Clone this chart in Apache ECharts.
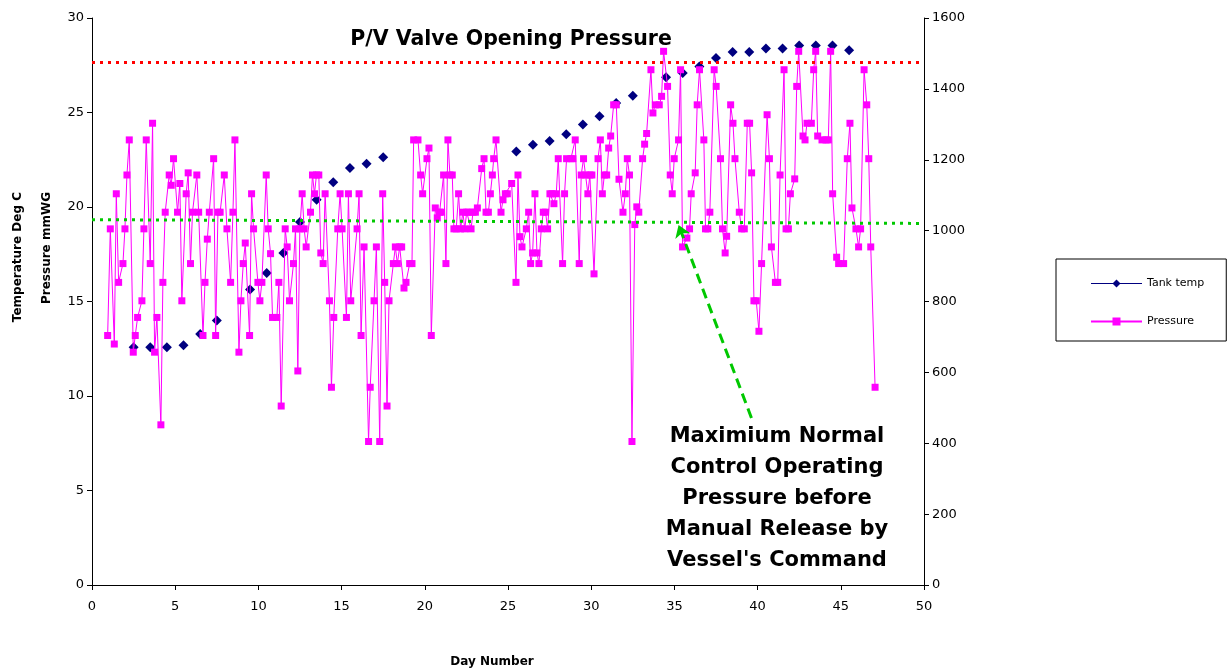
<!DOCTYPE html>
<html>
<head>
<meta charset="utf-8">
<script src="https://cdn.jsdelivr.net/npm/echarts@6/dist/echarts.min.js"></script>
<style>
html,body{margin:0;padding:0;background:#fff;}
#chart{width:1229px;height:671px;}
</style>
</head>
<body>
<div id="chart"></div>
<script>
// ---- Data ----
const tempDays = [2.5,3.5,4.5,5.5,6.5,7.5,9.5,10.5,11.5,12.5,13.5,14.5,15.5,16.5,17.5,
  25.5,26.5,27.5,28.5,29.5,30.5,31.5,32.5,34.5,35.5,36.5,37.5,38.5,39.5,40.5,41.5,42.5,43.5,44.5,45.5];
const tempValues = [12.58,12.58,12.58,12.68,13.28,13.99,15.63,16.51,17.57,19.21,20.39,21.31,22.06,22.29,22.63,
  22.93,23.30,23.49,23.85,24.36,24.80,25.50,25.89,26.86,27.09,27.44,27.88,28.20,28.20,28.38,28.38,28.55,28.55,28.55,28.29];

const pressureDays = [
  0.94,1.10,1.34,1.46,1.60,1.86,1.98,2.10,2.24,2.48,2.60,2.74,3.00,3.12,3.26,3.50,3.64,3.76,3.90,4.14,
  4.26,4.40,4.64,4.76,4.90,5.14,5.28,5.40,5.66,5.78,5.92,6.04,6.30,6.41,6.67,6.79,6.93,7.05,7.31,7.43,
  7.57,7.70,7.95,8.11,8.33,8.47,8.59,8.83,8.95,9.09,9.21,9.47,9.59,9.71,9.97,10.09,10.21,10.47,10.59,10.73,
  10.85,11.11,11.23,11.37,11.61,11.73,11.87,12.11,12.23,12.37,12.49,12.63,12.75,12.87,13.13,13.25,13.37,13.49,13.63,13.75,
  13.89,14.01,14.27,14.39,14.53,14.77,14.91,15.03,15.29,15.41,15.55,15.93,16.05,16.17,16.35,16.62,16.72,16.95,17.09,17.29,
  17.47,17.59,17.73,17.85,18.11,18.23,18.35,18.49,18.61,18.75,18.87,19.09,19.23,19.33,19.59,19.75,19.87,20.13,20.25,20.39,
  20.63,20.75,20.89,21.01,21.13,21.27,21.39,21.51,21.65,21.75,21.89,22.03,22.15,22.29,22.40,22.52,22.64,22.78,22.90,23.04,
  23.16,23.42,23.56,23.68,23.82,23.94,24.06,24.14,24.28,24.58,24.70,24.84,24.96,25.22,25.48,25.60,25.72,25.84,26.10,26.24,
  26.36,26.48,26.62,26.74,26.86,27.00,27.12,27.26,27.38,27.52,27.64,27.76,27.90,28.02,28.28,28.40,28.52,28.78,28.90,29.04,
  29.28,29.40,29.54,29.66,29.80,29.92,30.04,30.17,30.41,30.55,30.67,30.79,30.93,31.05,31.17,31.35,31.51,31.67,31.91,32.05,
  32.17,32.30,32.45,32.62,32.74,32.86,33.09,33.21,33.33,33.59,33.71,33.85,34.09,34.23,34.35,34.59,34.75,34.87,34.99,35.25,
  35.37,35.49,35.75,35.91,36.01,36.25,36.37,36.51,36.77,36.87,37.01,37.13,37.39,37.51,37.77,37.89,38.05,38.14,38.38,38.52,
  38.64,38.90,39.04,39.20,39.38,39.52,39.64,39.78,39.92,40.08,40.24,40.57,40.71,40.83,41.07,41.21,41.35,41.59,41.71,41.85,
  41.97,42.23,42.35,42.47,42.73,42.85,42.97,43.23,43.37,43.49,43.61,43.87,44.11,44.25,44.39,44.51,44.75,44.87,45.17,45.39,
  45.55,45.67,45.91,46.07,46.19,46.40,46.56,46.68,46.80,47.06];
const pressureValues = [
  704,1005,680,1104,854,907,1005,1157,1256,657,704,755,802,1005,1256,907,1303,657,755,452,
  854,1052,1157,1128,1203,1052,1133,802,1104,1163,907,1052,1157,1052,704,854,976,1052,1203,704,
  1052,1052,1157,1005,854,1052,1256,657,802,907,965,704,1104,1005,854,802,854,1157,1005,935,
  755,755,854,505,1005,954,802,907,1005,604,1005,1104,1005,954,1052,1157,1104,1157,1157,937,
  907,1104,802,558,755,1005,1104,1005,755,1104,802,1005,1104,704,954,405,558,802,954,405,
  1104,854,505,802,907,954,907,954,954,838,854,907,907,1256,1256,1157,1104,1203,1233,704,
  1064,1036,1052,1052,1157,907,1256,1157,1157,1005,1005,1104,1005,1052,1005,1052,1052,1005,1052,1052,
  1064,1175,1203,1052,1052,1104,1157,1203,1256,1052,1087,1104,1104,1133,854,1157,983,954,1005,1052,
  907,937,1104,937,907,1005,1052,1052,1005,1104,1104,1076,1104,1203,907,1104,1203,1203,1203,1256,
  907,1157,1203,1157,1104,1157,1157,878,1203,1256,1104,1157,1157,1233,1267,1355,1355,1145,1052,1104,
  1203,1157,405,1017,1067,1052,1203,1244,1274,1454,1332,1355,1355,1379,1506,1407,1157,1104,1203,1256,
  1454,954,979,1005,1104,1163,1355,1454,1256,1005,1005,1052,1454,1407,1203,1005,937,984,1355,1303,
  1203,1052,1005,1005,1303,1303,1163,802,802,716,907,1327,1203,954,854,854,1157,1454,1005,1005,
  1104,1146,1407,1506,1267,1256,1303,1303,1454,1506,1267,1256,1256,1256,1506,1104,925,907,907,1203,
  1303,1064,1005,954,1005,1454,1355,1203,954,558];

// reference levels (left axis, deg C scale)
const pvValveLevel = 27.67;
const normalMaxStart = 19.33;
const normalMaxEnd = 19.13;
const arrowFrom = [39.63, 8.84];
const arrowTo = [35.25, 19.05];

const xMin = 0, xMax = 50, xStep = 5;
const tMin = 0, tMax = 30, tStep = 5;
const pMin = 0, pMax = 1600, pStep = 200;

const FONT = 'DejaVu Sans';
const chart = echarts.init(document.getElementById('chart'), null, {renderer: 'canvas'});

const axisCommon = {
  axisLine: {show: true, lineStyle: {color: '#000', width: 1}},
  axisTick: {show: true, length: 5, lineStyle: {color: '#000'}},
  splitLine: {show: false},
  axisLabel: {color: '#000', fontSize: 13, fontFamily: FONT, formatter: v => String(v)}
};

const option = {
  animation: false,
  backgroundColor: '#fff',
  grid: {left: 92, right: 305, top: 18, bottom: 86, containLabel: false},
  xAxis: Object.assign({}, axisCommon, {
    type: 'value', min: xMin, max: xMax, interval: xStep,
    axisLabel: Object.assign({}, axisCommon.axisLabel, {margin: 15})
  }),
  yAxis: [
    Object.assign({}, axisCommon, {
      type: 'value', min: tMin, max: tMax, interval: tStep, position: 'left',
      axisLabel: Object.assign({}, axisCommon.axisLabel, {margin: 8})
    }),
    Object.assign({}, axisCommon, {
      type: 'value', min: pMin, max: pMax, interval: pStep, position: 'right',
      axisLabel: Object.assign({}, axisCommon.axisLabel, {margin: 8})
    })
  ],
  legend: {
    orient: 'vertical', left: 1056, top: 259,
    padding: [19, 22, 14, 34], itemGap: 27,
    itemWidth: 51, itemHeight: 10,
    borderColor: '#000', borderWidth: 1,
    textStyle: {color: '#000', fontSize: 11, fontFamily: FONT},
    data: [
      {name: 'Tank temp', lineStyle: {opacity: 1, width: 1, color: '#000080'}},
      {name: 'Pressure'}
    ]
  },
  series: [
    {
      name: 'Tank temp', type: 'line', yAxisIndex: 0, z: 2,
      data: tempDays.map((d, i) => [d, tempValues[i]]),
      symbol: 'diamond', symbolSize: 10,
      itemStyle: {color: '#000080'},
      lineStyle: {color: '#000080', width: 1, opacity: 0},
      markLine: {
        silent: true, animation: false, symbol: 'none',
        label: {show: false},
        data: [
          [{coord: [xMin, pvValveLevel], lineStyle: {color: '#ff0000', width: 3, type: [3, 5]}}, {coord: [xMax, pvValveLevel]}],
          [{coord: [xMin, normalMaxStart], lineStyle: {color: '#00c800', width: 3, type: [3, 5]}}, {coord: [xMax, normalMaxEnd]}],
          [{coord: arrowFrom, symbol: 'none', lineStyle: {color: '#00c800', width: 3, type: [10, 6]}},
           {coord: arrowTo, symbol: 'arrow', symbolSize: 12}]
        ]
      }
    },
    {
      name: 'Pressure', type: 'line', yAxisIndex: 1, z: 3,
      data: pressureDays.map((d, i) => [d, pressureValues[i]]),
      symbol: 'rect', symbolSize: 7,
      itemStyle: {color: '#ff00ff'},
      lineStyle: {color: '#ff00ff', width: 1}
    }
  ],
  graphic: [
    {type: 'text', x: 511, y: 40, z: 10,
     style: {text: 'P/V Valve Opening Pressure', font: 'bold 20.5px "DejaVu Sans"', fill: '#000',
             align: 'center', verticalAlign: 'middle', textAlign: 'center', textVerticalAlign: 'middle'}},
    {type: 'text', x: 777, y: 499, z: 10,
     style: {text: "Maximium Normal\nControl Operating\nPressure before\nManual Release by\nVessel's Command",
             font: 'bold 21px "DejaVu Sans"', fill: '#000', lineHeight: 31,
             align: 'center', verticalAlign: 'middle', textAlign: 'center', textVerticalAlign: 'middle'}},
    {type: 'text', x: 18, y: 192, rotation: Math.PI / 2,
     style: {text: 'Temperature Deg C', font: 'bold 12px "DejaVu Sans"', fill: '#000',
             align: 'right', verticalAlign: 'middle', textAlign: 'right', textVerticalAlign: 'middle'}},
    {type: 'text', x: 47, y: 192, rotation: Math.PI / 2,
     style: {text: 'Pressure mmWG', font: 'bold 12px "DejaVu Sans"', fill: '#000',
             align: 'right', verticalAlign: 'middle', textAlign: 'right', textVerticalAlign: 'middle'}},
    {type: 'text', x: 492, y: 662,
     style: {text: 'Day Number', font: 'bold 12px "DejaVu Sans"', fill: '#000',
             align: 'center', verticalAlign: 'middle', textAlign: 'center', textVerticalAlign: 'middle'}}
  ]
};
chart.setOption(option);
</script>
</body>
</html>
